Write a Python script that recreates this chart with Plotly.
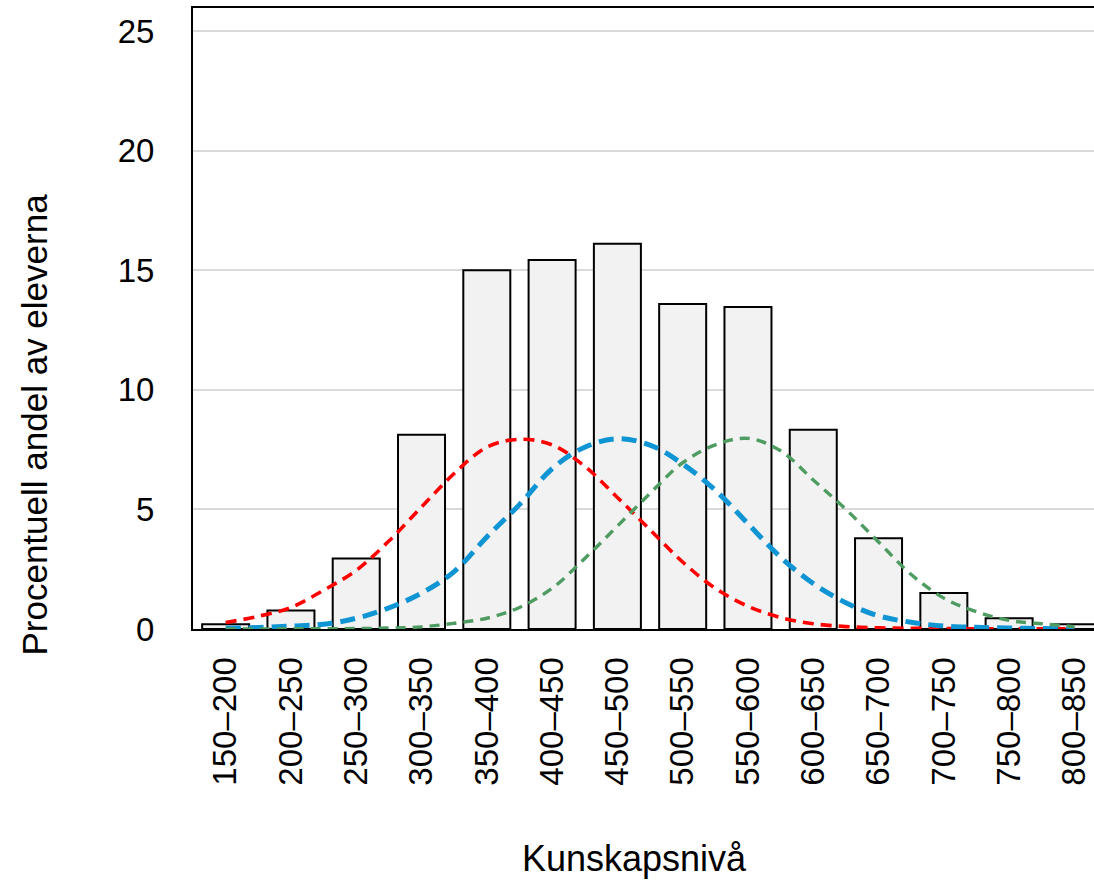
import plotly.graph_objs as go

# score bins (Kunskapsnivå) and share of students in each bin
bins = ['150–200', '200–250', '250–300', '300–350', '350–400', '400–450', '450–500',
        '500–550', '550–600', '600–650', '650–700', '700–750', '750–800', '800–850']
share = [0.2, 0.77, 2.95, 8.12, 15.0, 15.43, 16.1, 13.59, 13.46, 8.33, 3.79, 1.5, 0.45, 0.2]

# reference curves on a score scale
curve_x = [175, 200, 225, 250, 275, 300, 325, 350, 375, 400, 425, 450, 475, 500,
           525, 550, 575, 600, 625, 650, 675, 700, 725, 750, 775, 800, 825]
red_y = [0.27, 0.53, 0.9, 1.62, 2.45, 3.68, 5.1, 6.5, 7.6, 7.93, 7.7, 6.8, 5.5, 4.15,
         2.8, 1.7, 0.95, 0.48, 0.22, 0.1, 0.05, 0.03, 0.02, 0.01, 0.01, 0.01, 0.0]
blue_y = [0.03, 0.06, 0.12, 0.2, 0.45, 0.88, 1.5, 2.4, 3.85, 5.2, 6.7, 7.6, 7.95, 7.69,
          6.9, 5.8, 4.4, 3.0, 1.9, 1.1, 0.55, 0.28, 0.12, 0.07, 0.04, 0.02, 0.01]
green_y = [0.0, 0.0, 0.01, 0.01, 0.02, 0.04, 0.09, 0.24, 0.45, 0.9, 1.7, 2.95, 4.3, 5.67,
           6.95, 7.7, 7.97, 7.45, 6.23, 5.0, 3.64, 2.28, 1.29, 0.72, 0.36, 0.22, 0.1]

FONT = 'Liberation Sans, Arial, sans-serif'

fig = go.Figure()

fig.add_trace(go.Bar(x=bins, y=share,
                     marker=dict(color='#f2f2f2', line=dict(color='black', width=2)),
                     hoverinfo='skip'))

fig.add_trace(go.Scatter(x=curve_x, y=red_y, xaxis='x2', mode='lines', line_shape='spline',
                         line=dict(color='#ff0000', width=3.6, dash='11px,7px'), hoverinfo='skip'))
fig.add_trace(go.Scatter(x=curve_x, y=blue_y, xaxis='x2', mode='lines', line_shape='spline',
                         line=dict(color='#0f94d4', width=5, dash='15px,8px'), hoverinfo='skip'))
fig.add_trace(go.Scatter(x=curve_x, y=green_y, xaxis='x2', mode='lines', line_shape='spline',
                         line=dict(color='#4e9c62', width=3.4, dash='10px,7px'), hoverinfo='skip'))

fig.update_layout(
    width=1094, height=880,
    margin=dict(l=193, r=0, t=8, b=251),
    paper_bgcolor='white', plot_bgcolor='white',
    showlegend=False, bargap=0.28,
    font=dict(family=FONT, size=32, color='black'),
    xaxis=dict(type='category', range=[-0.5, 13.3], tickangle=-90,
               showline=True, linecolor='black', linewidth=2, mirror=True,
               showgrid=False, ticks='', ticklabelstandoff=13,
               tickfont=dict(size=33)),
    xaxis2=dict(overlaying='x', range=[150, 840], visible=False),
    yaxis=dict(range=[0, 25.96], tickvals=[0, 5, 10, 15, 20, 25],
               showline=True, linecolor='black', linewidth=2,
               showgrid=True, gridcolor='#d9d9d9', gridwidth=1.5,
               zeroline=False, ticks='', ticklabelstandoff=30,
               tickfont=dict(size=33)),
    annotations=[
        dict(text='Procentuell andel av eleverna', textangle=-90,
             xref='paper', yref='paper', x=-0.177, y=0.3285,
             xanchor='center', yanchor='middle', showarrow=False,
             font=dict(size=35)),
        dict(text='Kunskapsnivå', xref='paper', yref='paper',
             x=0.49, y=-0.369, xanchor='center', yanchor='middle',
             showarrow=False, font=dict(size=36)),
    ],
)

fig.write_html('out.html', config={'displayModeBar': False},
               post_script="document.body.style.margin='0px';")
